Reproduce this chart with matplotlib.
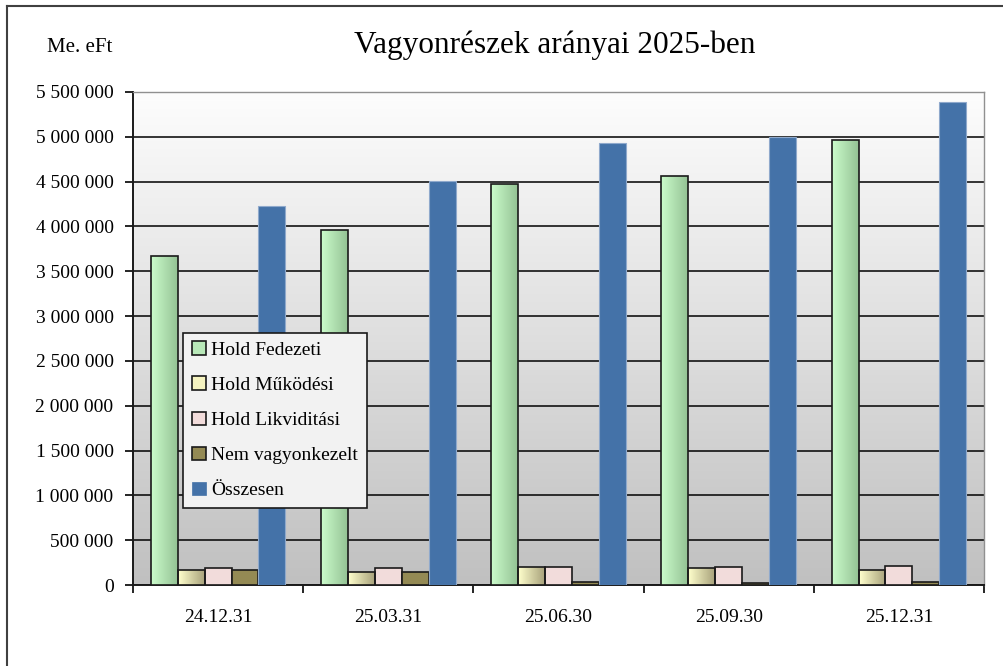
import matplotlib
matplotlib.use("Agg")
import matplotlib.pyplot as plt
import numpy as np
from matplotlib.colors import LinearSegmentedColormap
from matplotlib.lines import Line2D
from matplotlib.patches import Patch
from matplotlib.ticker import FuncFormatter, MultipleLocator

plt.rcParams["font.family"] = ["Liberation Serif", "DejaVu Serif"]

# --- data (Me. eFt) ---
dates = ["24.12.31", "25.03.31", "25.06.30", "25.09.30", "25.12.31"]
series_names = ["Hold Fedezeti", "Hold Működési", "Hold Likviditási",
                "Nem vagyonkezelt", "Összesen"]
fedezeti = [3665000, 3960000, 4475000, 4565000, 4965000]
mukodesi = [165000, 150000, 205000, 190000, 170000]
likviditasi = [190000, 190000, 205000, 205000, 210000]
nem_vagyonkezelt = [165000, 150000, 35000, 20000, 35000]
osszesen = [4230000, 4510000, 4930000, 5000000, 5390000]

BAR_W = 0.158

fig = plt.figure(figsize=(10.04, 6.66), dpi=100)
ax = fig.add_axes([133 / 1004, 1 - 585 / 666, 851 / 1004, 493 / 666])

# outer chart frame (top + left visible)
fig.add_artist(Line2D([7 / 1004, 7 / 1004], [0, 1 - 6 / 666], transform=fig.transFigure,
                      color="#404040", lw=1.5))
fig.add_artist(Line2D([7 / 1004, 1], [1 - 6 / 666, 1 - 6 / 666], transform=fig.transFigure,
                      color="#404040", lw=1.5))

# plot-area background: white at top fading to grey
bg = np.linspace(0, 1, 256).reshape(-1, 1)
bg_cmap = LinearSegmentedColormap.from_list("bg", ["#fdfdfd", "#c0c0c0"])
ax.imshow(bg, cmap=bg_cmap, aspect="auto", extent=(0, 1, 0, 1),
          transform=ax.transAxes, zorder=0)

x = np.arange(len(dates)) + 0.5

green_cmap = LinearSegmentedColormap.from_list("g", ["#cbfccb", "#94c294"])
yellow_cmap = LinearSegmentedColormap.from_list("y", ["#ffffcc", "#a8a27c"])
hgrad = np.linspace(0, 1, 64).reshape(1, -1)


def gradient_bars(xpos, vals, cmap):
    bars = ax.bar(xpos, vals, width=BAR_W, facecolor="none", edgecolor="#1a1a1a",
                  linewidth=1.2, zorder=4)
    for b in bars:
        x0, w, h = b.get_x(), b.get_width(), b.get_height()
        im = ax.imshow(hgrad, cmap=cmap, aspect="auto", extent=(x0, x0 + w, 0, h),
                       zorder=3)
        im.set_clip_path(b)


gradient_bars(x - 2 * BAR_W, fedezeti, green_cmap)
gradient_bars(x - 1 * BAR_W, mukodesi, yellow_cmap)
ax.bar(x, likviditasi, width=BAR_W, color="#f2dcdb", edgecolor="#1a1a1a",
       linewidth=1.2, zorder=3)
ax.bar(x + 1 * BAR_W, nem_vagyonkezelt, width=BAR_W, color="#948a54",
       edgecolor="#1a1a1a", linewidth=1.2, zorder=3)
ax.bar(x + 2 * BAR_W, osszesen, width=BAR_W, color="#4472a8",
       edgecolor="#8fa9cc", linewidth=0.8, zorder=3)

ax.set_xlim(0, len(dates))
ax.set_ylim(0, 5500000)

# gridlines
ax.yaxis.set_major_locator(MultipleLocator(500000))
ax.grid(axis="y", color="black", linewidth=1.1, zorder=1)
ax.set_axisbelow(True)
ax.yaxis.set_major_formatter(FuncFormatter(lambda v, _: f"{int(v):,}".replace(",", " ")))

# x ticks: marks at category borders, labels at centers
ax.set_xticks(np.arange(len(dates) + 1))
ax.set_xticklabels([])
ax.set_xticks(x, minor=True)
ax.set_xticklabels(dates, minor=True)
ax.tick_params(axis="x", which="major", length=6, width=1.2, direction="out")
ax.tick_params(axis="x", which="minor", length=0, pad=17, labelsize=14)
ax.tick_params(axis="y", length=6, width=1.2, pad=8, labelsize=14)

for side in ("left", "bottom"):
    ax.spines[side].set_color("#1a1a1a")
    ax.spines[side].set_linewidth(1.4)
for side in ("top", "right"):
    ax.spines[side].set_color("#909090")
    ax.spines[side].set_linewidth(1.0)

fig.text(555 / 1004, 1 - 45 / 666, "Vagyonrészek arányai 2025-ben", ha="center",
         va="center", fontsize=22.5)
fig.text(80 / 1004, 1 - 48 / 666, "Me. eFt", ha="center", va="center", fontsize=15)

handles = [
    Patch(facecolor="#b8e8b8", edgecolor="#1a1a1a", linewidth=1.2),
    Patch(facecolor="#f5f3c0", edgecolor="#1a1a1a", linewidth=1.2),
    Patch(facecolor="#f2dcdb", edgecolor="#1a1a1a", linewidth=1.2),
    Patch(facecolor="#948a54", edgecolor="#1a1a1a", linewidth=1.2),
    Patch(facecolor="#4472a8", edgecolor="#4472a8", linewidth=0.5),
]
leg = ax.legend(handles, series_names, loc="upper left", bbox_to_anchor=(0.059, 0.512),
                fontsize=14, frameon=True, fancybox=False, framealpha=1,
                facecolor="#f2f2f2", edgecolor="#1a1a1a", handlelength=0.7,
                handleheight=0.7, handletextpad=0.3, labelspacing=0.9,
                borderpad=0.45, borderaxespad=0)
leg.get_frame().set_linewidth(1.2)
leg.set_zorder(6)

fig.savefig("out.png", dpi=100)
